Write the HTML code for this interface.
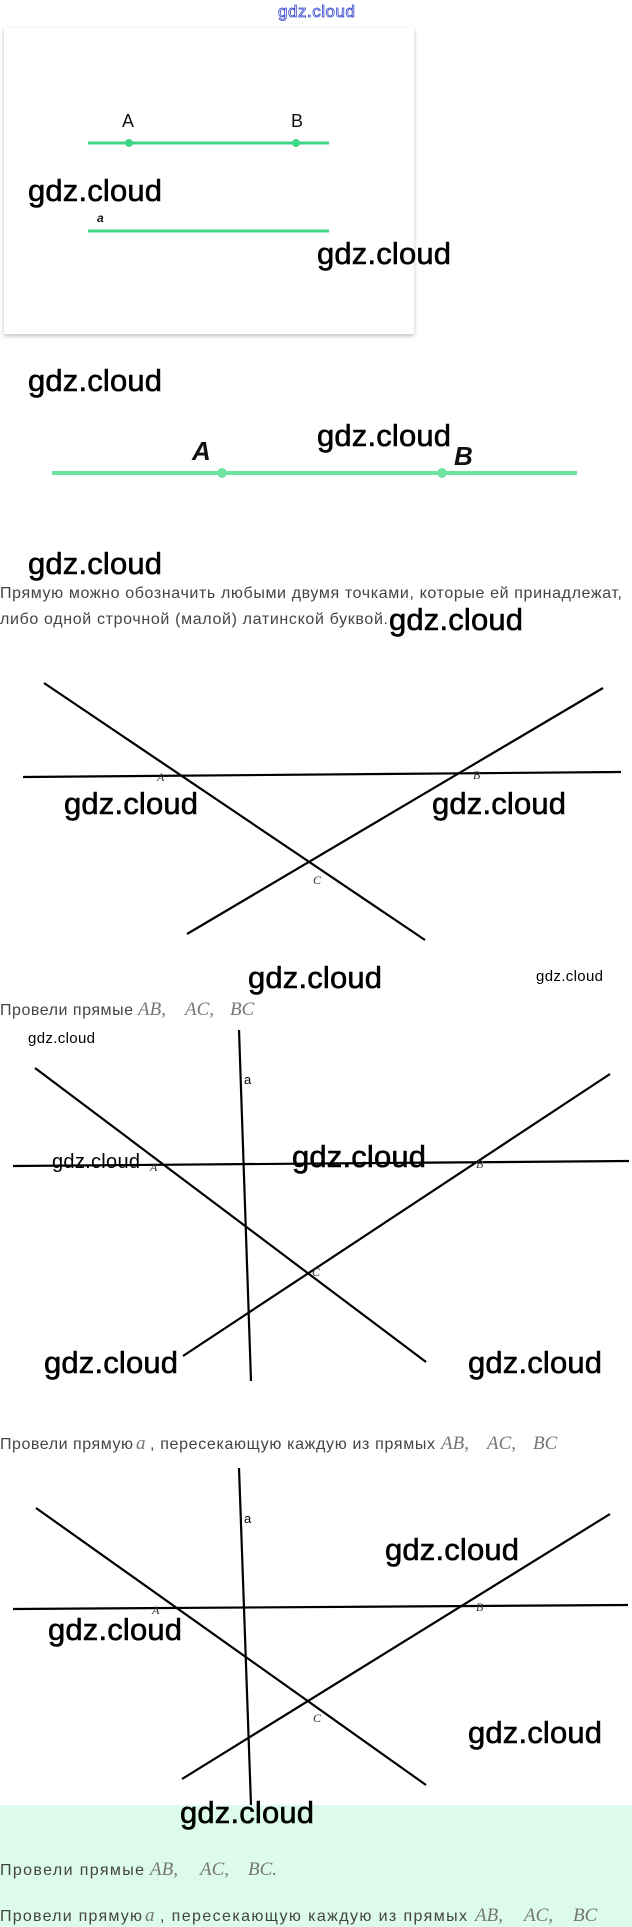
<!DOCTYPE html>
<html><head><meta charset="utf-8"><style>
html,body{margin:0;padding:0;background:#fff;}
svg{display:block;}
.w{font-family:"Liberation Sans","DejaVu Sans",sans-serif;font-size:31px;fill:#000;stroke:#000;stroke-width:0.6;}
.t{font-family:"Liberation Sans","DejaVu Sans",sans-serif;font-size:16px;fill:#444;}
.m{font-family:"Liberation Serif",serif;font-style:italic;font-size:19px;fill:#777;}
.l{stroke:#000;stroke-width:2.2;}
.lab{font-family:"Liberation Serif",serif;font-style:italic;font-size:12px;fill:#333;}
</style></head><body>
<svg width="632" height="1927" viewBox="0 0 632 1927" xmlns="http://www.w3.org/2000/svg">
<defs><filter id="sh" x="-5%" y="-5%" width="110%" height="110%"><feDropShadow dx="0" dy="2" stdDeviation="2" flood-color="#000" flood-opacity="0.25"/></filter></defs>
<text x="278" y="17" font-family="Liberation Sans,sans-serif" font-size="17" fill="none" stroke="#3344cc" stroke-width="0.8" textLength="77">gdz.cloud</text>
<rect x="4" y="28" width="410" height="306" fill="#fff" filter="url(#sh)"/>
<line x1="88" y1="143" x2="329" y2="143" stroke="#3fd587" stroke-width="3"/>
<circle cx="129" cy="143" r="4" fill="#3fd587"/><circle cx="296" cy="143" r="4" fill="#3fd587"/>
<text x="122" y="127" font-family="Liberation Sans,sans-serif" font-size="18" fill="#111">A</text>
<text x="291" y="127" font-family="Liberation Sans,sans-serif" font-size="18" fill="#111">B</text>
<text x="97" y="222" font-family="Liberation Sans,sans-serif" font-style="italic" font-weight="bold" font-size="12" fill="#111">a</text>
<line x1="88" y1="231" x2="329" y2="231" stroke="#3fd587" stroke-width="3"/>
<text class="w" x="28" y="201" textLength="134">gdz.cloud</text>
<text class="w" x="317" y="264" textLength="134">gdz.cloud</text>
<text class="w" x="28" y="391" textLength="134">gdz.cloud</text>
<line x1="52" y1="473" x2="577" y2="473" stroke="#6ee3a3" stroke-width="4"/>
<circle cx="222" cy="473" r="5" fill="#6ee3a3"/><circle cx="442" cy="473" r="5" fill="#6ee3a3"/>
<text x="192" y="460" font-family="Liberation Sans,sans-serif" font-style="italic" font-weight="bold" font-size="26" fill="#111">A</text>
<text x="454" y="465" font-family="Liberation Sans,sans-serif" font-style="italic" font-weight="bold" font-size="26" fill="#111">B</text>
<text class="w" x="317" y="446" textLength="134">gdz.cloud</text>
<text class="w" x="28" y="574" textLength="134">gdz.cloud</text>
<text class="t" x="0" y="598" textLength="622">Прямую можно обозначить любыми двумя точками, которые ей принадлежат,</text>
<text class="t" x="0" y="624" textLength="388">либо одной строчной (малой) латинской буквой.</text>
<text class="w" x="389" y="630" textLength="134">gdz.cloud</text>

<!-- diagram 1 -->
<line class="l" x1="23" y1="777" x2="621" y2="772"/>
<line class="l" x1="44" y1="683" x2="425" y2="940"/>
<line class="l" x1="187" y1="934" x2="603" y2="688"/>
<text class="lab" x="157" y="781">A</text><text class="lab" x="473" y="779">B</text><text class="lab" x="313" y="884">C</text>
<text class="w" x="64" y="814" textLength="134">gdz.cloud</text>
<text class="w" x="432" y="814" textLength="134">gdz.cloud</text>
<text class="w" x="248" y="988" textLength="134">gdz.cloud</text>
<text x="536" y="981" font-family="Liberation Sans,sans-serif" font-size="15" textLength="67">gdz.cloud</text>
<text class="t" x="0" y="1015" textLength="133">Провели прямые</text>
<text class="m" x="138" y="1015">AB,</text><text class="m" x="185" y="1015">AC,</text><text class="m" x="230" y="1015">BC</text>
<text x="28" y="1043" font-family="Liberation Sans,sans-serif" font-size="15" textLength="67">gdz.cloud</text>

<!-- diagram 2 -->
<line class="l" stroke-width="1.6" x1="239" y1="1030" x2="251" y2="1381"/>
<line class="l" x1="35" y1="1068" x2="426" y2="1362"/>
<line class="l" x1="13" y1="1166" x2="629" y2="1161"/>
<line class="l" x1="183" y1="1356" x2="610" y2="1074"/>
<text x="244" y="1084" font-family="Liberation Sans,sans-serif" font-size="13">a</text>
<text class="lab" x="150" y="1171">A</text><text class="lab" x="476" y="1168">B</text><text class="lab" x="312" y="1276">C</text>
<text x="52" y="1168" font-family="Liberation Sans,sans-serif" font-size="20" textLength="88">gdz.cloud</text>
<text class="w" x="292" y="1167" textLength="134">gdz.cloud</text>
<text class="w" x="44" y="1373" textLength="134">gdz.cloud</text>
<text class="w" x="468" y="1373" textLength="134">gdz.cloud</text>
<text class="t" x="0" y="1449" textLength="133">Провели прямую</text>
<text class="m" x="136" y="1449">a</text>
<text class="t" x="150" y="1449" textLength="285">, пересекающую каждую из прямых</text>
<text class="m" x="441" y="1449">AB,</text><text class="m" x="487" y="1449">AC,</text><text class="m" x="533" y="1449">BC</text>

<!-- diagram 3 -->
<rect x="0" y="1805" width="632" height="122" fill="#dcfbea"/>
<line class="l" stroke-width="1.6" x1="239" y1="1468" x2="251" y2="1805"/>
<line class="l" x1="36" y1="1508" x2="426" y2="1785"/>
<line class="l" x1="13" y1="1609" x2="628" y2="1605"/>
<line class="l" x1="182" y1="1779" x2="610" y2="1514"/>
<text x="244" y="1523" font-family="Liberation Sans,sans-serif" font-size="13">a</text>
<text class="lab" x="152" y="1614">A</text><text class="lab" x="476" y="1611">B</text><text class="lab" x="313" y="1722">C</text>
<text class="w" x="385" y="1560" textLength="134">gdz.cloud</text>
<text class="w" x="48" y="1640" textLength="134">gdz.cloud</text>
<text class="w" x="468" y="1743" textLength="134">gdz.cloud</text>
<text class="w" x="180" y="1823" textLength="134">gdz.cloud</text>
<text class="t" x="0" y="1875" textLength="144">Провели прямые</text>
<text class="m" x="150" y="1875" font-size="21">AB,</text><text class="m" x="200" y="1875" font-size="21">AC,</text><text class="m" x="248" y="1875" font-size="21">BC.</text>
<text class="t" x="0" y="1921" textLength="142">Провели прямую</text>
<text class="m" x="145" y="1921" font-size="21">a</text>
<text class="t" x="160" y="1921" textLength="307">, пересекающую каждую из прямых</text>
<text class="m" x="475" y="1921" font-size="21">AB,</text><text class="m" x="524" y="1921" font-size="21">AC,</text><text class="m" x="573" y="1921" font-size="21">BC</text>
</svg>
</body></html>
